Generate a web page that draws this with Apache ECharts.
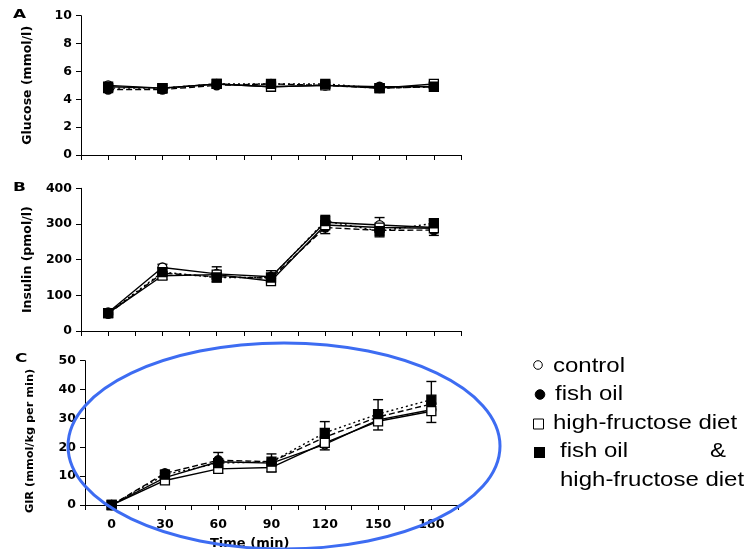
<!DOCTYPE html>
<html>
<head>
<meta charset="utf-8">
<script src="https://cdn.jsdelivr.net/npm/echarts@6/dist/echarts.min.js"></script>
<style>
html,body{margin:0;padding:0;background:#fff;}
#chart{width:746px;height:549px;}
</style>
</head>
<body>
<div id="chart"></div>
<script>
// ---- data ----
var times = [0, 30, 60, 90, 120, 150, 180];
var seriesNames = ['control', 'fish oil', 'high-fructose diet', 'fish oil & high-fructose diet'];

// Panel A: Glucose (mmol/l)
var glucoseControl = [5.0, 4.8, 5.1, 4.9, 5.0, 4.9, 4.9];
var glucoseFishOil = [4.7, 4.7, 5.0, 5.1, 5.0, 4.8, 4.9];
var glucoseHF      = [4.9, 4.8, 5.1, 4.9, 5.0, 4.8, 5.1];
var glucoseFOHF    = [4.8, 4.8, 5.1, 5.1, 5.1, 4.8, 4.9];
var glucoseErrLow  = [4.6, 4.45, 4.9, 4.75, 4.85, 4.65, 4.75];
var glucoseErrHigh = [5.1, 5.0, 5.2, 5.2, 5.2, 5.0, 5.2];

// Panel B: Insulin (pmol/l)
var insulinControl = [52, 178, 160, 152, 305, 297, 290];
var insulinFishOil = [48, 162, 152, 148, 290, 282, 283];
var insulinHF      = [50, 155, 158, 140, 297, 290, 288];
var insulinFOHF    = [50, 165, 150, 150, 308, 280, 302];
var insulinErrLow  = [45, 145, 138, 133, 273, 264, 268];
var insulinErrHigh = [57, 187, 180, 169, 324, 318, 310];

// Panel C: GIR (mmol/kg per min)
var girControl = [0, 9.5, 15.0, 14.5, 21.0, 29.5, 33.0];
var girFishOil = [0, 11.0, 15.5, 15.0, 23.5, 30.5, 35.0];
var girHF      = [0, 8.5, 12.5, 13.0, 21.5, 29.0, 32.5];
var girFOHF    = [0, 10.5, 14.5, 15.0, 25.0, 31.5, 36.5];
var girErrLow  = [0, 7.5, 11.0, 11.6, 19.1, 26.0, 28.6];
var girErrHigh = [0, 12.0, 18.2, 17.7, 28.9, 36.5, 42.8];

var yTicksA = [0, 2, 4, 6, 8, 10];
var yTicksB = [0, 100, 200, 300, 400];
var yTicksC = [0, 10, 20, 30, 40, 50];
var xTickLabels = [0, 30, 60, 90, 120, 150, 180];

// ---- build ----
function pairs(vals) { return times.map(function (t, i) { return [t, vals[i]]; }); }
function errData(lo, hi) { return times.map(function (t, i) { return [t, lo[i], hi[i]]; }); }

var styles = [
  { symbol: 'circle', fill: '#fff', type: 'solid' },
  { symbol: 'circle', fill: '#000', type: [6, 3] },
  { symbol: 'rect', fill: '#fff', type: 'solid' },
  { symbol: 'rect', fill: '#000', type: [2, 3] }
];

var tickFont = { fontFamily: 'DejaVu Sans', fontWeight: 'bold', fontSize: 12.5, color: '#000' };

function makeX(idx, showLabels) {
  return {
    type: 'value', gridIndex: idx, min: -15, max: 195, interval: 15,
    axisLine: { show: true, onZero: false, lineStyle: { color: '#000', width: 1 } },
    axisTick: { show: true, length: 5, lineStyle: { color: '#000' } },
    splitLine: { show: false },
    axisLabel: {
      show: showLabels, margin: 13,
      fontFamily: 'DejaVu Sans', fontWeight: 'bold', fontSize: 12.5, color: '#000',
      formatter: function (v) { return xTickLabels.indexOf(v) >= 0 ? String(v) : ''; }
    }
  };
}
function makeY(idx, ticks, name) {
  return {
    type: 'value', gridIndex: idx, min: ticks[0], max: ticks[ticks.length - 1],
    interval: ticks[1] - ticks[0],
    name: name, nameLocation: 'middle', nameGap: 47, nameRotate: 90,
    nameTextStyle: { fontFamily: 'DejaVu Sans', fontWeight: 'bold', fontSize: 12.5, color: '#000' },
    axisLine: { show: true, onZero: false, lineStyle: { color: '#000', width: 1 } },
    axisTick: { show: true, length: 5, lineStyle: { color: '#000' } },
    splitLine: { show: false },
    axisLabel: Object.assign({ margin: 9 }, tickFont)
  };
}

var panels = [
  [glucoseControl, glucoseFishOil, glucoseHF, glucoseFOHF, glucoseErrLow, glucoseErrHigh],
  [insulinControl, insulinFishOil, insulinHF, insulinFOHF, insulinErrLow, insulinErrHigh],
  [girControl, girFishOil, girHF, girFOHF, girErrLow, girErrHigh]
];

var series = [];
panels.forEach(function (p, pi) {
  series.push({
    type: 'custom', xAxisIndex: pi, yAxisIndex: pi, z: 2,
    data: errData(p[4], p[5]),
    renderItem: function (params, api) {
      var x = api.value(0), lo = api.value(1), hi = api.value(2);
      if (lo === hi) return null;
      var a = api.coord([x, lo]), b = api.coord([x, hi]);
      var w = 5;
      var st = { stroke: '#000', lineWidth: 1.4 };
      return {
        type: 'group', children: [
          { type: 'line', shape: { x1: a[0], y1: a[1], x2: b[0], y2: b[1] }, style: st },
          { type: 'line', shape: { x1: a[0] - w, y1: a[1], x2: a[0] + w, y2: a[1] }, style: st },
          { type: 'line', shape: { x1: b[0] - w, y1: b[1], x2: b[0] + w, y2: b[1] }, style: st }
        ]
      };
    }
  });
  for (var s = 0; s < 4; s++) {
    series.push({
      name: seriesNames[s], type: 'line', xAxisIndex: pi, yAxisIndex: pi, z: 3 + s,
      data: pairs(p[s]), symbol: styles[s].symbol, symbolSize: 9,
      showAllSymbol: true, animation: false,
      lineStyle: { color: '#000', width: 1.4, type: styles[s].type },
      itemStyle: { color: styles[s].fill, borderColor: '#000', borderWidth: 1.3 }
    });
  }
});

var legendFont = '20px "Liberation Sans", Arial, sans-serif';
function legText(txt, x, y) {
  return { type: 'text', x: x, y: y, scaleX: 1.2, z: 100,
    style: { text: txt, font: legendFont, fill: '#000', textVerticalAlign: 'middle' } };
}
function panelLetter(txt, x, y) {
  return { type: 'text', x: x, y: y, scaleX: 1.3, z: 100,
    style: { text: txt, font: 'bold 13px "DejaVu Sans"', fill: '#000', textVerticalAlign: 'middle' } };
}

var yAxisC = makeY(2, yTicksC, '');
yAxisC.name = '';

var option = {
  animation: false,
  backgroundColor: '#fff',
  grid: [
    { left: 81, top: 15.7, width: 380, height: 139.3 },
    { left: 81, top: 188.3, width: 380, height: 142.7 },
    { left: 85, top: 360.7, width: 373, height: 144.3 }
  ],
  xAxis: [makeX(0, false), makeX(1, false), makeX(2, true)],
  yAxis: [
    makeY(0, yTicksA, 'Glucose (mmol/l)'),
    makeY(1, yTicksB, 'Insulin (pmol/l)'),
    yAxisC
  ],
  series: series,
  graphic: [
    panelLetter('A', 13, 15),
    panelLetter('B', 13, 188),
    panelLetter('C', 15, 359),
    { type: 'text', x: 30, y: 441, rotation: Math.PI / 2, z: 100,
      style: { text: 'GIR (mmol/kg per min)', font: 'bold 11.3px "DejaVu Sans"', fill: '#000',
               textAlign: 'center', textVerticalAlign: 'middle' } },
    { type: 'text', x: 210, y: 544, z: 100,
      style: { text: 'Time (min)', font: 'bold 13px "DejaVu Sans"', fill: '#000', textVerticalAlign: 'middle' } },
    { type: 'ellipse', z: 120, shape: { cx: 284, cy: 446, rx: 216, ry: 103 },
      style: { fill: 'none', stroke: '#3d6cf2', lineWidth: 3 } },
    { type: 'circle', shape: { cx: 538, cy: 365, r: 4.3 }, style: { fill: '#fff', stroke: '#000', lineWidth: 1 } },
    { type: 'circle', shape: { cx: 540, cy: 394.5, r: 4.8 }, style: { fill: '#000', stroke: '#000', lineWidth: 1 } },
    { type: 'rect', shape: { x: 533.5, y: 419, width: 10, height: 10 }, style: { fill: '#fff', stroke: '#000', lineWidth: 1 } },
    { type: 'rect', shape: { x: 534, y: 447, width: 11, height: 11 }, style: { fill: '#000' } },
    legText('control', 553, 366),
    legText('fish oil', 555, 394),
    legText('high-fructose diet', 553, 423),
    legText('fish oil', 560, 451),
    legText('&', 710, 451),
    legText('high-fructose diet', 560, 480)
  ]
};

var chart = echarts.init(document.getElementById('chart'), null, { renderer: 'canvas' });
chart.setOption(option);
</script>
</body>
</html>
